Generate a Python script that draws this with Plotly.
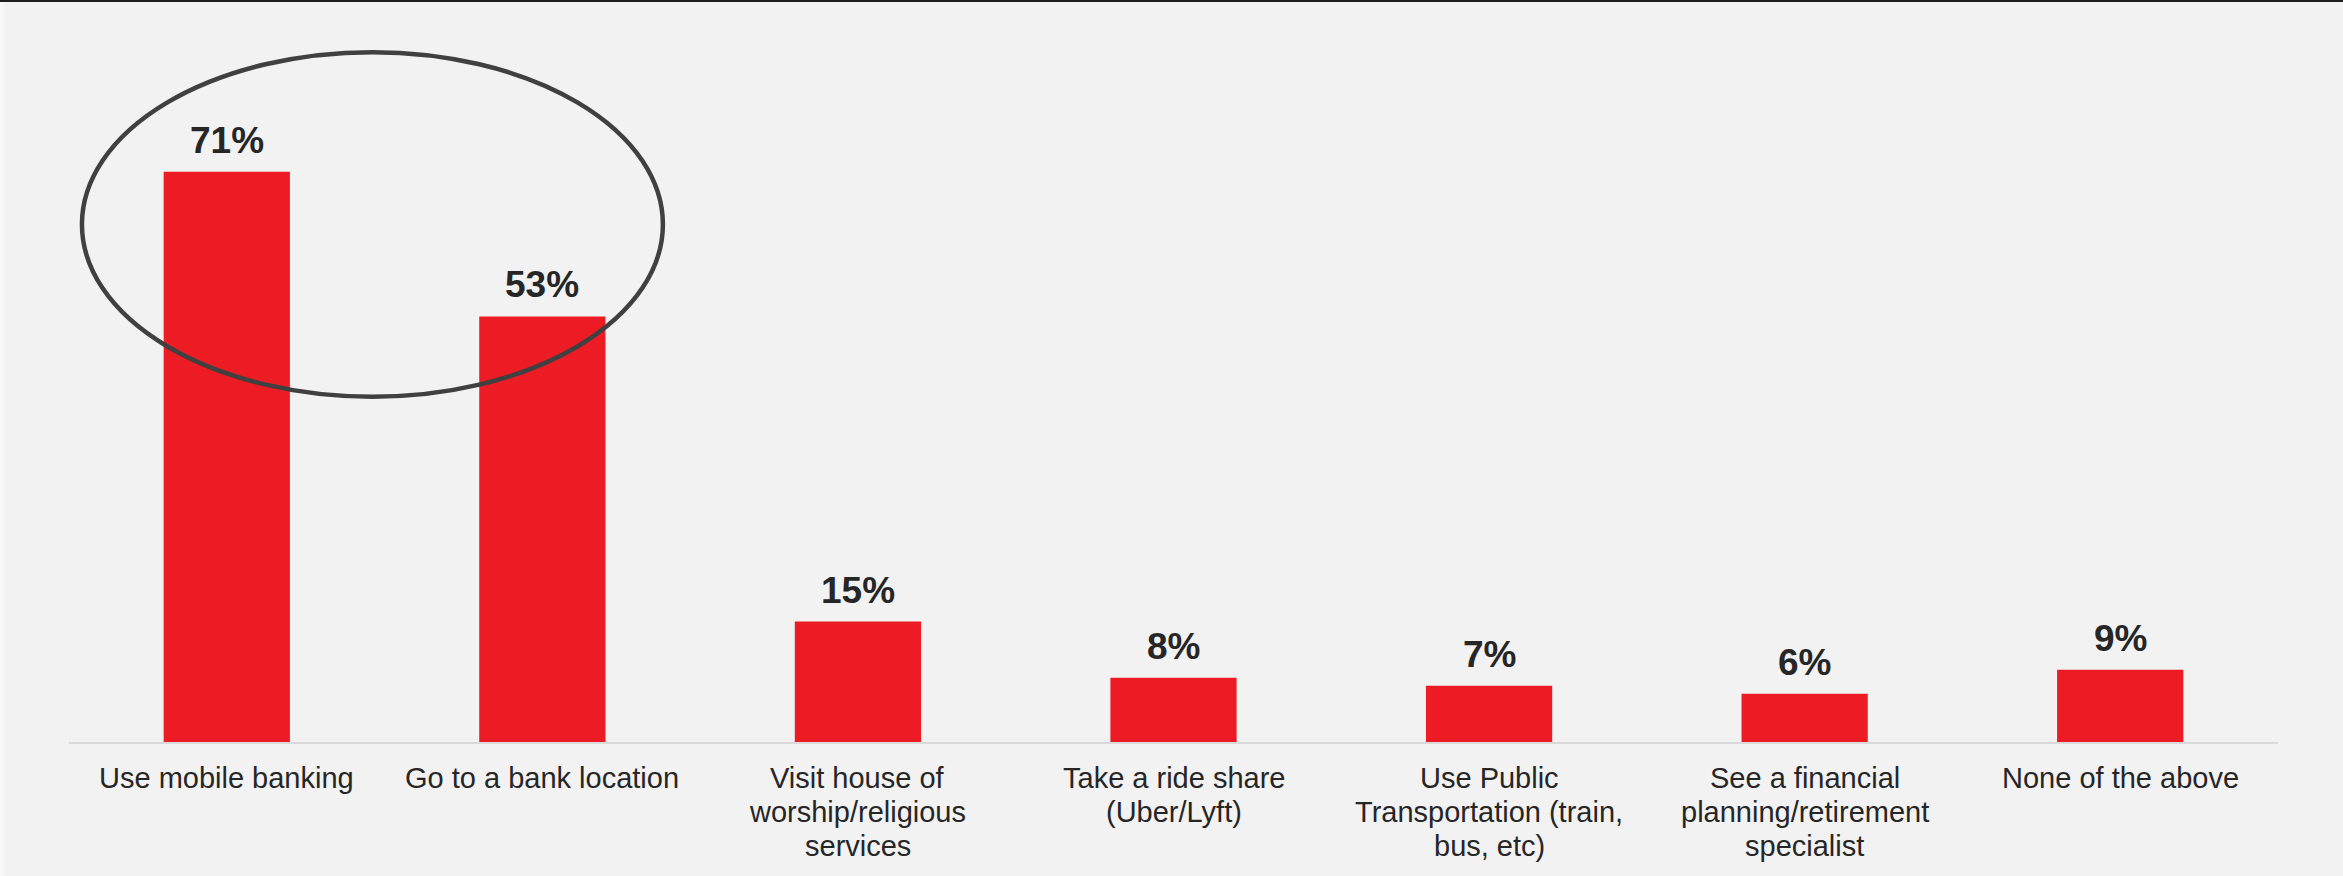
import plotly.graph_objects as go

categories = [
    "Use mobile banking",
    "Go to a bank location",
    "Visit house of<br>worship/religious<br>services",
    "Take a ride share<br>(Uber/Lyft)",
    "Use Public<br>Transportation (train,<br>bus, etc)",
    "See a financial<br>planning/retirement<br>specialist",
    "None of the above",
]
values = [71, 53, 15, 8, 7, 6, 9]
labels = [f"{v}%" for v in values]

FONT = "Liberation Sans, Arial, sans-serif"
W, H = 2343, 876
ML, MR, MT, MB = 69, 65, 40, 134
plot_h = H - MT - MB
YMAX = plot_h / 8.03

fig = go.Figure()
fig.add_trace(go.Bar(
    x=list(range(len(categories))),
    y=values,
    width=0.4,
    marker=dict(color="#ED1C24", line=dict(width=0)),
    hoverinfo="skip",
))

annotations = []
# value labels above the bars
for i, (v, t) in enumerate(zip(values, labels)):
    annotations.append(dict(
        x=i, y=v, xref="x", yref="y", text=f"<b>{t}</b>",
        showarrow=False, yanchor="bottom", xanchor="center", yshift=9,
        font=dict(family=FONT, size=37, color="#262626"),
    ))
# category labels, one annotation per line for exact line spacing
LINE_GAP = 34
for i, cat in enumerate(categories):
    for j, line in enumerate(cat.split("<br>")):
        annotations.append(dict(
            x=i, y=0, xref="x", yref="paper", text=line,
            showarrow=False, yanchor="top", xanchor="center",
            yshift=-(18 + LINE_GAP * j),
            font=dict(family=FONT, size=29, color="#262626"),
        ))

fig.update_layout(
    width=W, height=H,
    margin=dict(l=ML, r=MR, t=MT, b=MB, pad=0),
    paper_bgcolor="#f2f2f2",
    plot_bgcolor="#f2f2f2",
    showlegend=False,
    font=dict(family=FONT, color="#262626"),
    xaxis=dict(
        range=[-0.5, len(categories) - 0.5],
        showline=True, linecolor="#d9d9d9", linewidth=2,
        showgrid=False, zeroline=False, showticklabels=False, ticks="",
    ),
    yaxis=dict(
        range=[0, YMAX], visible=False, showgrid=False, zeroline=False,
    ),
    annotations=annotations,
    shapes=[
        # highlight ellipse around first two bars
        dict(type="circle", xref="x", yref="y",
             x0=-0.459, x1=1.382, y0=43.0, y1=85.9,
             line=dict(color="#404040", width=4.5), fillcolor="rgba(0,0,0,0)",
             layer="above"),
        # top border line
        dict(type="line", xref="paper", yref="paper",
             x0=-ML / (W - ML - MR), x1=1 + MR / (W - ML - MR),
             y0=1 + (MT - 1) / plot_h, y1=1 + (MT - 1) / plot_h,
             line=dict(color="#1f1f1f", width=2)),
        # lighter strip at left edge
        dict(type="rect", xref="paper", yref="paper", layer="below",
             x0=-ML / (W - ML - MR), x1=(4 - ML) / (W - ML - MR),
             y0=-MB / plot_h, y1=1 + (MT - 2) / plot_h,
             line=dict(width=0), fillcolor="#f8f8f8"),
    ],
)

fig.write_html("out.html")
